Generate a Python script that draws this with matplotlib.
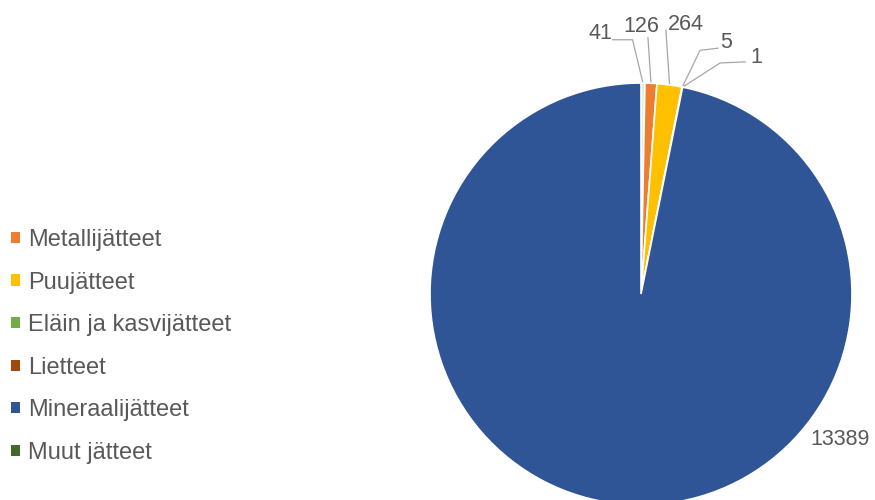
import matplotlib
matplotlib.use("Agg")
import matplotlib.pyplot as plt
from matplotlib.patches import Patch
import numpy as np

# Data
slice_values = [41, 126, 264, 5, 1, 13389]
slice_labels = ["41", "126", "264", "5", "1", "13389"]
legend_names = ["Metallijätteet", "Puujätteet", "Eläin ja kasvijätteet",
                "Lietteet", "Mineraalijätteet", "Muut jätteet"]
legend_colors = ["#ED7D31", "#FFC000", "#70AD47", "#9E480E", "#2F5597", "#43682B"]
slice_colors = ["#E2EFD9", "#ED7D31", "#FFC000", "#70AD47", "#9E480E", "#2F5597"]

plt.rcParams['font.family'] = ['Liberation Sans', 'DejaVu Sans']
TXT = "#595959"

fig = plt.figure(figsize=(8.75, 5), dpi=100)
ax = fig.add_axes([430/875, -5/500, 422/875, 422/500])
wedges, _ = ax.pie(slice_values, colors=slice_colors, startangle=90, counterclock=False,
                   radius=1.0, wedgeprops=dict(edgecolor="white", linewidth=1.2))
ax.set_xlim(-1, 1)
ax.set_ylim(-1, 1)
ax.set_aspect('auto')

# label text positions (data units) and elbow points for leader lines
text_pos = [(-0.19, 1.235), (0.0, 1.27), (0.215, 1.275), (0.405, 1.19), (0.545, 1.12), (0.945, -0.69)]
elbows = [[(-0.135, 1.205), (-0.04, 1.205)],
          [(0.033, 1.215)],
          [(0.118, 1.25)],
          [(0.365, 1.165), (0.28, 1.155)],
          [(0.495, 1.10), (0.375, 1.095)],
          None]

total = sum(slice_values)
cum = 0
for v, lab, tp, el in zip(slice_values, slice_labels, text_pos, elbows):
    mid = 90 - (cum + v / 2) / total * 360
    cum += v
    ang = np.deg2rad(mid)
    ex, ey = np.cos(ang) * 1.0, np.sin(ang) * 1.0
    ax.text(tp[0], tp[1], lab, ha='center', va='center', fontsize=15.5, color=TXT, clip_on=False)
    if el is not None:
        xs = [p[0] for p in el] + [ex]
        ys = [p[1] for p in el] + [ey]
        ax.plot(xs, ys, color="#A6A6A6", lw=0.9, clip_on=False, zorder=0)

handles = [Patch(facecolor=c, edgecolor='none') for c in legend_colors]
fig.legend(handles, legend_names, loc='upper left', bbox_to_anchor=(11/875, 1 - 229/500),
           frameon=False, fontsize=17, handlelength=0.36, handleheight=0.36,
           handletextpad=0.36, labelspacing=0.87, labelcolor=TXT, borderaxespad=0,
           borderpad=0)

fig.savefig("out.png", dpi=100)
